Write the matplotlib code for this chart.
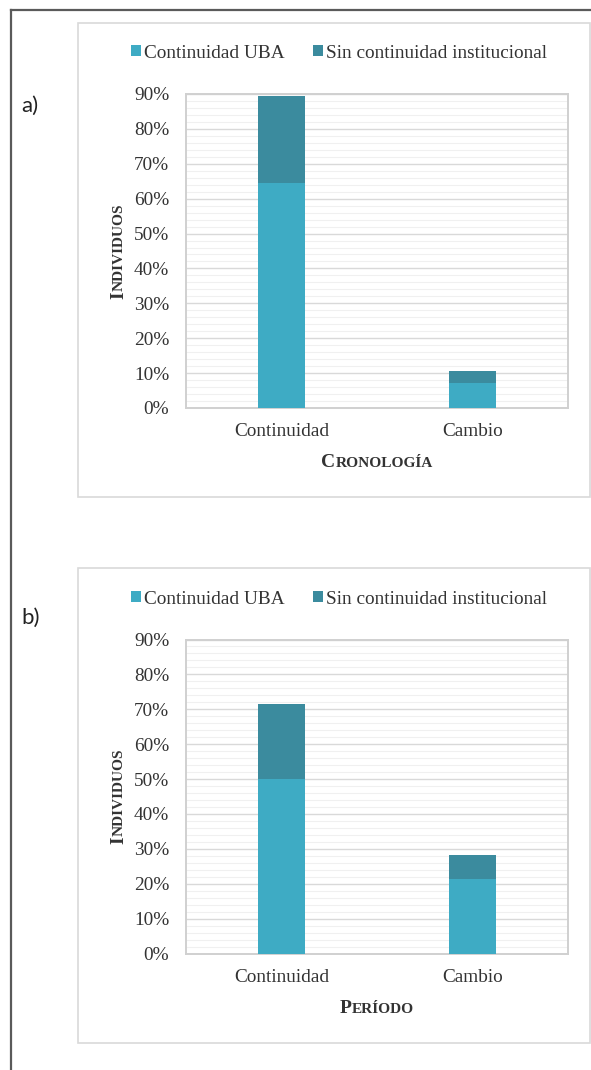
"""Two stacked bar panels (a: cronología, b: período) as in the reference figure."""
import matplotlib

matplotlib.use("Agg")
import matplotlib.pyplot as plt  # noqa: E402
from matplotlib.patches import Rectangle  # noqa: E402
from matplotlib.lines import Line2D  # noqa: E402
from matplotlib.ticker import FuncFormatter, MultipleLocator  # noqa: E402

W, H = 591, 1070  # output size in pixels (dpi 100)

# --- data (percent of individuals) ---
categories = ["Continuidad", "Cambio"]
series_names = ["Continuidad UBA", "Sin continuidad institucional"]
a_uba = [64.4, 7.2]
a_sin = [25.0, 3.4]
b_uba = [50.0, 21.3]
b_sin = [21.4, 7.0]
y_ticks = [0, 10, 20, 30, 40, 50, 60, 70, 80, 90]

C_UBA = "#3eabc4"
C_SIN = "#3b8b9e"
TXT = "#333333"
SERIF = "Liberation Serif"

plt.rcParams["font.family"] = SERIF


def fx(px):
    return px / W


def fy(py):
    return 1 - py / H


def small_caps(fig, renderer, word, x, y, big=14, small=11.1, rotation=0):
    """Word-style small caps: first letter big, the rest as smaller capitals.

    Horizontal: (x, y) is the centre of the word on its baseline.
    Rotated 90: x is the baseline column, y the vertical centre.
    """
    kw = dict(weight="bold", color=TXT, family=SERIF, rotation=rotation,
              rotation_mode="anchor", ha="left", va="baseline")
    t1 = fig.text(0, 0, word[0], fontsize=big, **kw)
    t2 = fig.text(0, 0, word[1:].upper(), fontsize=small, **kw)
    if rotation == 0:
        w1 = t1.get_window_extent(renderer).width + 0.5
        w2 = t2.get_window_extent(renderer).width
        x0 = x - (w1 + w2) / 2
        t1.set_position((fx(x0), fy(y)))
        t2.set_position((fx(x0 + w1), fy(y)))
    else:
        w1 = t1.get_window_extent(renderer).height + 0.5
        w2 = t2.get_window_extent(renderer).height
        y0 = y + (w1 + w2) / 2  # bottom of the word (pixels from top)
        t1.set_position((fx(x), fy(y0)))
        t2.set_position((fx(x), fy(y0 - w1)))


def panel(fig, box, plot, uba, sin, legend_y):
    # light chart frame
    bx0, by0, bx1, by1 = box
    fig.patches.append(Rectangle((fx(bx0), fy(by1)), fx(bx1 - bx0), (by1 - by0) / H,
                                 transform=fig.transFigure, fill=False,
                                 edgecolor="#d9d9d9", lw=1.2))
    px0, py0, px1, py1 = plot
    ax = fig.add_axes([fx(px0), fy(py1), fx(px1 - px0), (py1 - py0) / H])
    x = range(len(categories))
    h1 = ax.bar(x, uba, width=0.25, color=C_UBA, label=series_names[0], zorder=3)
    h2 = ax.bar(x, sin, width=0.25, bottom=uba, color=C_SIN,
                label=series_names[1], zorder=3)
    ax.set_xlim(-0.5, 1.5)
    ax.set_ylim(0, 90)
    ax.set_xticks(list(x))
    ax.set_xticklabels(categories, fontsize=13.9, color=TXT)
    ax.set_yticks(y_ticks)
    ax.yaxis.set_major_formatter(FuncFormatter(lambda v, _: f"{v:.0f}%"))
    ax.yaxis.set_minor_locator(MultipleLocator(2))
    ax.tick_params(axis="y", which="major", labelsize=13.9, labelcolor=TXT,
                   length=0, pad=12)
    ax.tick_params(axis="y", which="minor", length=0)
    ax.tick_params(axis="x", length=0, pad=11)
    ax.grid(axis="y", which="major", color="#d9d9d9", lw=1.0, zorder=1)
    ax.grid(axis="y", which="minor", color="#f0f0f0", lw=0.8, zorder=0)
    for s in ax.spines.values():
        s.set_color("#d0d0d0")
        s.set_linewidth(1.4)
    ax.set_axisbelow(True)
    fig.legend(handles=[h1, h2], loc="center", ncol=2, frameon=False,
               bbox_to_anchor=(fx(339), fy(legend_y)), bbox_transform=fig.transFigure,
               fontsize=13.9, labelcolor=TXT, handlelength=0.55, handleheight=0.55,
               handletextpad=0.15, columnspacing=1.45, borderpad=0, borderaxespad=0)
    return ax


fig = plt.figure(figsize=(W / 100, H / 100), dpi=100)
renderer = fig.canvas.get_renderer()

# outer page frame (top and left edges only are in view)
fig.lines.append(Line2D([fx(11), 1], [fy(10), fy(10)], transform=fig.transFigure,
                        color="#5a5a5a", lw=1.6))
fig.lines.append(Line2D([fx(11), fx(11)], [fy(10), 0], transform=fig.transFigure,
                        color="#5a5a5a", lw=1.6))

panel(fig, (78, 23, 590, 497), (186, 94, 568, 408), a_uba, a_sin, 53)
panel(fig, (78, 568, 590, 1043), (186, 639.5, 568, 953.5), b_uba, b_sin, 599)

small_caps(fig, renderer, "Cronología", 377, 467)
small_caps(fig, renderer, "Individuos", 123, 251, rotation=90)
small_caps(fig, renderer, "Período", 377, 1013)
small_caps(fig, renderer, "Individuos", 123, 796.5, rotation=90)

fig.text(fx(21), fy(106), "a)", fontsize=16, family="Lato", color="#222222",
         ha="left", va="center")
fig.text(fx(21), fy(618), "b)", fontsize=16, family="Lato", color="#222222",
         ha="left", va="center")

fig.savefig("out.png", dpi=100)
